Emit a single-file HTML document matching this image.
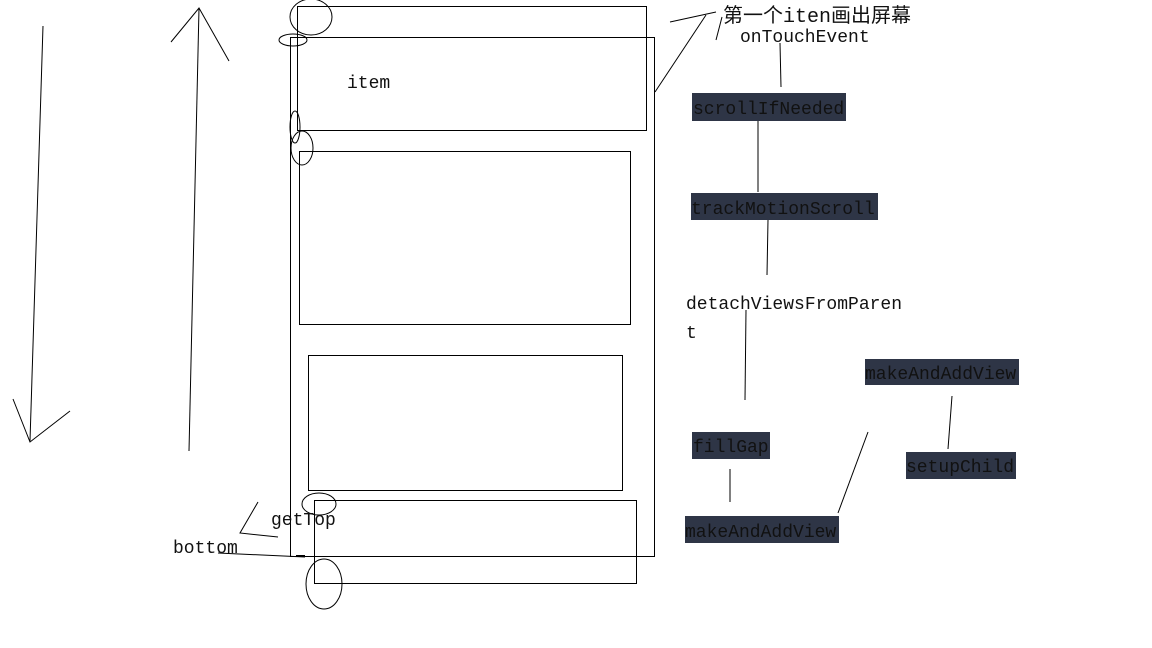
<!DOCTYPE html>
<html><head><meta charset="utf-8"><style>
html,body{margin:0;padding:0;background:#fff;}
svg{display:block;}
text{font-family:"Liberation Mono","Noto Sans CJK SC",monospace;font-size:18px;fill:#111;}
</style></head><body>
<svg width="1152" height="648" viewBox="0 0 1152 648">
<g fill="none" stroke="#000" stroke-width="1">
  <rect x="290.5" y="37.5" width="364" height="519"/>
  <rect x="297.5" y="6.5" width="349" height="124"/>
  <rect x="299.5" y="151.5" width="331" height="173"/>
  <rect x="308.5" y="355.5" width="314" height="135"/>
  <rect x="314.5" y="500.5" width="322" height="83"/>
  <ellipse cx="311" cy="17" rx="21" ry="18"/>
  <ellipse cx="293" cy="40" rx="14" ry="6"/>
  <ellipse cx="295" cy="127" rx="5" ry="16"/>
  <ellipse cx="302" cy="148" rx="11" ry="17"/>
  <ellipse cx="319" cy="504" rx="17" ry="11"/>
  <ellipse cx="324" cy="584" rx="18" ry="25"/>
  <polyline points="43,26 30,441"/>
  <polyline points="13,399 30,442 70,411"/>
  <polyline points="189,451 199,8"/>
  <polyline points="171,42 199,8 229,61"/>
  <polyline points="655,92 706,15"/>
  <polyline points="670,22 716,12"/>
  <polyline points="716,40 722,17"/>
  <polyline points="780,43 781,87"/>
  <polyline points="758,121 758,192"/>
  <polyline points="768,220 767,275"/>
  <polyline points="746,310 745,400"/>
  <polyline points="730,469 730,502"/>
  <polyline points="838,513 868,432"/>
  <polyline points="948,449 952,396"/>
  <polyline points="258,502 240,533 278,537"/>
  <polyline points="218,553 305,557"/>
  <polyline points="296,556 305,556" stroke-width="2"/>
</g>
<g fill="#2e3546">
  <rect x="692" y="93" width="154" height="28"/>
  <rect x="691" y="193" width="187" height="27"/>
  <rect x="865" y="359" width="154" height="26"/>
  <rect x="692" y="432" width="78" height="27"/>
  <rect x="906" y="452" width="110" height="27"/>
  <rect x="685" y="516" width="154" height="27"/>
</g>
<text x="723" y="22" style="font-size:20px">第一个iten画出屏幕</text>
<text x="740" y="42">onTouchEvent</text>
<text x="693" y="114" fill="#111">scrollIfNeeded</text>
<text x="691" y="214">trackMotionScroll</text>
<text x="686" y="309">detachViewsFromParen</text>
<text x="686" y="338">t</text>
<text x="865" y="379">makeAndAddView</text>
<text x="693" y="452">fillGap</text>
<text x="906" y="472">setupChild</text>
<text x="685" y="537">makeAndAddView</text>
<text x="347" y="88">item</text>
<text x="271" y="525">getTop</text>
<text x="173" y="553">bottom</text>
</svg>
</body></html>
